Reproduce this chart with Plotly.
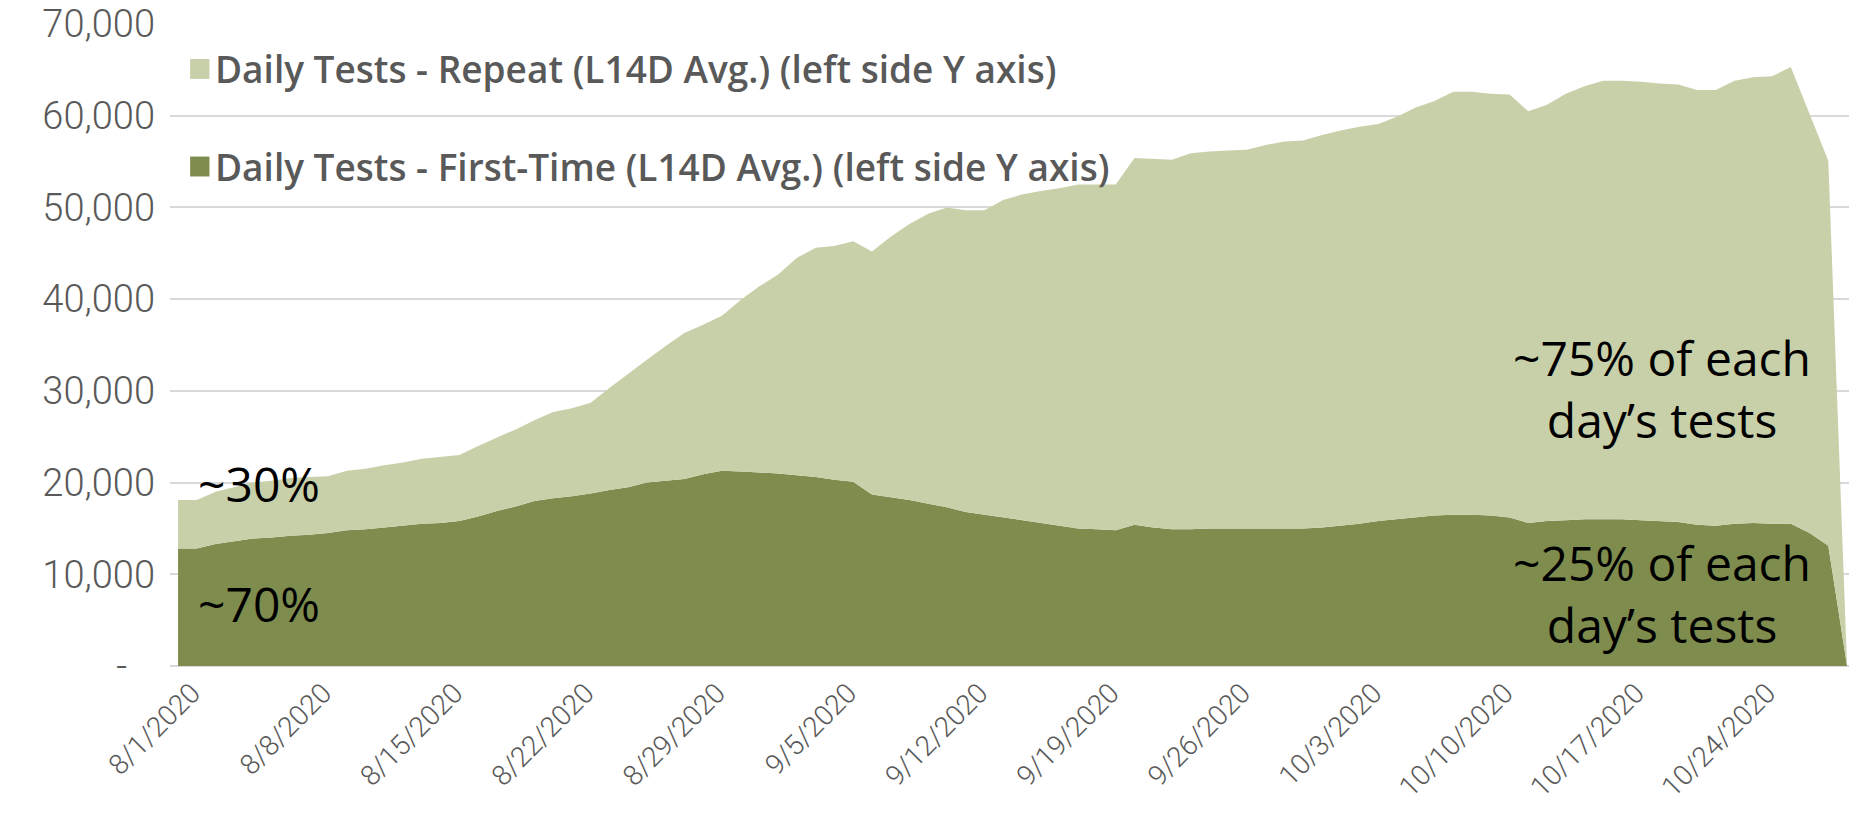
import pandas as pd
import plotly.graph_objects as go

# L14D average daily tests, one value per day starting 8/1/2020
FIRST_TIME = [
    12800, 12800, 13300, 13600, 13900, 14000, 14200, 14300, 14500, 14800,
    14900, 15100, 15300, 15500, 15600, 15800, 16300, 16900, 17400, 18000,
    18300, 18500, 18800, 19200, 19500, 20000, 20200, 20400, 20900, 21300,
    21200, 21100, 21000, 20800, 20600, 20300, 20100, 18700, 18400, 18100,
    17700, 17300, 16800, 16500, 16200, 15900, 15600, 15300, 15000, 14900,
    14800, 15400, 15100, 14900, 14900, 15000, 15000, 15000, 15000, 15000,
    15000, 15100, 15300, 15500, 15800, 16000, 16200, 16400, 16500, 16500,
    16400, 16200, 15600, 15800, 15900, 16000, 16000, 16000, 15900, 15800,
    15700, 15400, 15300, 15500, 15600, 15500, 15500, 14500, 13100, 0,
]
REPEAT = [
    5300, 5300, 5700, 5900, 6100, 6200, 6300, 6300, 6200, 6500,
    6600, 6800, 6900, 7100, 7200, 7200, 7700, 8000, 8400, 8800,
    9400, 9600, 9900, 11100, 12400, 13400, 14700, 15900, 16300, 16900,
    18700, 20300, 21700, 23700, 25000, 25500, 26200, 26500, 28400, 30100,
    31600, 32700, 32900, 33200, 34600, 35500, 36200, 36800, 37500, 37600,
    37700, 40000, 40200, 40300, 41000, 41100, 41200, 41300, 41800, 42200,
    42300, 42800, 43100, 43300, 43300, 43900, 44700, 45200, 46100, 46100,
    46000, 46100, 44900, 45400, 46500, 47200, 47800, 47800, 47800, 47700,
    47700, 47400, 47500, 48300, 48600, 48800, 49800, 45600, 42000, 0,
]
START_DATE = "2020-08-01"
TICK_DATES = ["2020-08-01", "2020-08-08", "2020-08-15", "2020-08-22", "2020-08-29",
              "2020-09-05", "2020-09-12", "2020-09-19", "2020-09-26", "2020-10-03",
              "2020-10-10", "2020-10-17", "2020-10-24"]
TICK_LABELS = ["8/1/2020", "8/8/2020", "8/15/2020", "8/22/2020", "8/29/2020",
               "9/5/2020", "9/12/2020", "9/19/2020", "9/26/2020", "10/3/2020",
               "10/10/2020", "10/17/2020", "10/24/2020"]
Y_TICKS = [0, 10000, 20000, 30000, 40000, 50000, 60000, 70000]
Y_LABELS = ["-\u00a0\u00a0\u00a0", "10,000", "20,000", "30,000", "40,000",
            "50,000", "60,000", "70,000"]
SERIES_NAMES = ["Daily Tests - First-Time (L14D Avg.) (left side Y axis)",
                "Daily Tests - Repeat (L14D Avg.) (left side Y axis)"]

LIGHT = "#C8D0A9"
DARK = "#7E8C4E"
GRAY = "#595959"

dates = pd.date_range(START_DATE, periods=len(FIRST_TIME), freq="D")

fig = go.Figure()
fig.add_trace(go.Scatter(x=dates, y=FIRST_TIME, name=SERIES_NAMES[0], stackgroup="one",
                         mode="lines", line=dict(width=0, color=DARK), fillcolor=DARK))
fig.add_trace(go.Scatter(x=dates, y=REPEAT, name=SERIES_NAMES[1], stackgroup="one",
                         mode="lines", line=dict(width=0, color=LIGHT), fillcolor=LIGHT))

# hand-made legend (square swatches like the original)
legend_rows = [(SERIES_NAMES[1], LIGHT, 0.930), (SERIES_NAMES[0], DARK, 0.778)]
for name, color, yy in legend_rows:
    fig.add_shape(type="rect", xref="paper", yref="paper",
                  x0=0.012, x1=0.0235, y0=yy - 0.0155, y1=yy + 0.0155,
                  fillcolor=color, line=dict(width=0))
    fig.add_annotation(text=name, xref="paper", yref="paper", x=0.0255, y=yy,
                       xanchor="left", yanchor="middle", showarrow=False,
                       font=dict(family="Open Sans", size=37, color=GRAY, weight=600))

note_font = dict(family="Open Sans", size=48, color="#000000")
notes = [
    ("~30%", 0.0155, 0.285, "left"),
    ("~70%", 0.0155, 0.097, "left"),
    ("~75% of each<br>day\u2019s tests", 0.8886, 0.433, "center"),
    ("~25% of each<br>day\u2019s tests", 0.8886, 0.1135, "center"),
]
for text, xx, yy, anchor in notes:
    fig.add_annotation(text=text, xref="paper", yref="paper", x=xx, y=yy,
                       xanchor=anchor, yanchor="middle", align="center",
                       showarrow=False, font=note_font)

fig.update_xaxes(
    type="date",
    range=["2020-07-31 13:40", "2020-10-29 02:30"],
    tickvals=TICK_DATES, ticktext=TICK_LABELS, tickangle=-45,
    tickfont=dict(family="Roboto", size=28, color=GRAY, weight=300),
    ticklabelshift=14, ticklabelstandoff=4, automargin=False,
    showgrid=False, zeroline=False, showline=False, ticks="",
)
fig.update_yaxes(
    range=[0, 70000], tickvals=Y_TICKS, ticktext=Y_LABELS,
    tickfont=dict(family="Roboto", size=38, color=GRAY, weight=300),
    showgrid=True, gridcolor="#D9D9D9", gridwidth=1.5,
    zeroline=True, zerolinecolor="#D9D9D9", zerolinewidth=1.5,
    showline=False, ticks="", ticklabelstandoff=14, automargin=False,
)
fig.update_layout(
    width=1864, height=826,
    margin=dict(l=170, r=15, t=24, b=160),
    plot_bgcolor="white", paper_bgcolor="white",
    showlegend=False,
)

# drop the default page margin so the figure sits at the window's corner
fig.write_html("out.html", config={"displayModeBar": False},
               post_script="document.body.style.margin='0';")
